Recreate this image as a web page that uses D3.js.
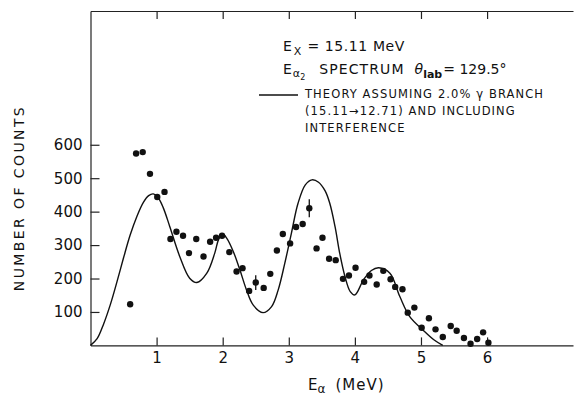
<!DOCTYPE html>
<html>
<head>
<meta charset="utf-8">
<script src="https://cdn.jsdelivr.net/npm/d3@7"></script>
<style>
  body { margin: 0; background: #fff; }
  svg { display: block; font-family: "DejaVu Sans", sans-serif; }
  .axis path, .axis line { stroke: #222; stroke-width: 1.2; }
  .axis text { font-size: 15px; fill: #111; font-family: "DejaVu Sans", sans-serif; }
</style>
</head>
<body>
<script>
// measured points (E_alpha in MeV, counts)
var energy = [0.60, 0.69, 0.79, 0.90, 1.01, 1.12, 1.21, 1.30, 1.40, 1.49, 1.60, 1.71, 1.81, 1.90, 1.99,
  2.10, 2.21, 2.30, 2.40, 2.50, 2.62, 2.72, 2.82, 2.91, 3.02, 3.11, 3.21, 3.31, 3.42, 3.51, 3.61, 3.71,
  3.82, 3.91, 4.01, 4.14, 4.22, 4.33, 4.43, 4.54, 4.61, 4.72, 4.80, 4.90, 5.01, 5.12, 5.22, 5.33, 5.45,
  5.54, 5.65, 5.75, 5.85, 5.94, 6.02];
var counts = [123, 574, 578, 513, 444, 459, 318, 340, 328, 276, 318, 266, 310, 322, 328,
  279, 221, 231, 163, 188, 172, 214, 284, 333, 305, 354, 363, 410, 290, 322, 259, 255,
  199, 209, 232, 190, 209, 182, 223, 198, 175, 168, 98, 113, 53, 81, 48, 25, 58,
  44, 22, 5, 19, 39, 8];
// error bars shown on two points
var errE = [2.50, 3.31];
var errN = [188, 410];
var errSize = [22, 27];

// theory curve
var theoryE = [0, 0.10, 0.20, 0.30, 0.40, 0.50, 0.60, 0.70, 0.80, 0.88, 0.95, 1.02, 1.10, 1.20, 1.35, 1.50, 1.61, 1.76, 1.88, 1.94, 2.0,
  2.06, 2.16, 2.26, 2.36, 2.46, 2.61, 2.74, 2.84, 2.94, 3.04, 3.14, 3.25, 3.35, 3.45, 3.55, 3.62, 3.70, 3.77, 3.85, 3.93, 4.0,
  4.13, 4.25, 4.36, 4.53, 4.68, 4.83, 5.03, 5.20, 5.33];
var theoryN = [0, 20, 65, 122, 190, 262, 330, 385, 428, 448, 453, 443, 412, 355, 266, 201, 188, 216, 276, 318, 333,
  321, 281, 226, 166, 121, 98, 116, 166, 246, 336, 425, 480, 495, 488, 462, 425, 355, 276, 206, 161, 151,
  196, 224, 232, 216, 146, 86, 46, 16, 0];

var yTicks = [100, 200, 300, 400, 500, 600];
var xTicks = [1, 2, 3, 4, 5, 6];

var W = 574, H = 398;
var svg = d3.select("body").append("svg").attr("width", W).attr("height", H);

var x = d3.scaleLinear().domain([0, 7.3]).range([90.5, 573]);
var y = d3.scaleLinear().domain([0, 1000]).range([345.4, 11]);

// axes (ticks point inward)
svg.append("g").attr("class", "axis")
  .attr("transform", "translate(" + x(0) + ",0)")
  .call(d3.axisLeft(y).tickValues(yTicks).tickSizeInner(-9).tickSizeOuter(0).tickPadding(8));

svg.append("g").attr("class", "axis")
  .attr("transform", "translate(0," + y(0) + ")")
  .call(d3.axisBottom(x).tickValues(xTicks).tickSizeInner(-8).tickSizeOuter(0).tickPadding(7));

svg.append("g").attr("class", "axis")
  .attr("transform", "translate(0," + y(1000) + ")")
  .call(d3.axisTop(x).tickValues(xTicks).tickSizeInner(-8).tickSizeOuter(0).tickFormat(""));

svg.selectAll(".axis .domain").attr("fill", "none");

// theory curve
var pts = theoryE.map(function (e, i) { return [e, theoryN[i]]; });
var line = d3.line()
  .x(function (d) { return x(d[0]); })
  .y(function (d) { return y(d[1]); })
  .curve(d3.curveCatmullRom.alpha(0.5));

svg.append("path")
  .attr("d", line(pts))
  .attr("fill", "none")
  .attr("stroke", "#111")
  .attr("stroke-width", 1.4);

// error bars
svg.selectAll("line.err")
  .data(errE)
  .enter().append("line")
  .attr("class", "err")
  .attr("x1", function (d) { return x(d); })
  .attr("x2", function (d) { return x(d); })
  .attr("y1", function (d, i) { return y(errN[i] + errSize[i]); })
  .attr("y2", function (d, i) { return y(errN[i] - errSize[i]); })
  .attr("stroke", "#111")
  .attr("stroke-width", 1.3);

// data points
svg.selectAll("circle")
  .data(energy)
  .enter().append("circle")
  .attr("cx", function (d) { return x(d); })
  .attr("cy", function (d, i) { return y(counts[i]); })
  .attr("r", 3.2)
  .attr("fill", "#111");

// y label
svg.append("text")
  .attr("transform", "translate(24,198) rotate(-90)")
  .attr("text-anchor", "middle")
  .attr("font-size", 14)
  .attr("letter-spacing", 2.4)
  .attr("fill", "#111")
  .text("NUMBER OF COUNTS");

// x label
var xl = svg.append("text")
  .attr("x", 308).attr("y", 390)
  .attr("font-size", 15)
  .attr("fill", "#111");
xl.append("tspan").text("E");
xl.append("tspan").attr("dy", 3).attr("font-size", 12).text("α");
xl.append("tspan").attr("dx", 10).attr("dy", -3).attr("letter-spacing", 1).text("(MeV)");

// annotation block
var t1 = svg.append("text").attr("x", 283).attr("y", 51).attr("font-size", 14).attr("fill", "#111");
t1.append("tspan").text("E");
t1.append("tspan").attr("dx", 2).attr("dy", 4).attr("font-size", 11).text("X");
t1.append("tspan").attr("dx", 6).attr("dy", -4).attr("letter-spacing", 0.6).text("= 15.11 MeV");

var t2 = svg.append("text").attr("x", 283).attr("y", 74).attr("font-size", 14).attr("fill", "#111");
t2.append("tspan").text("E");
t2.append("tspan").attr("dx", 1).attr("dy", 3).attr("font-size", 11).text("α");
t2.append("tspan").attr("dy", 3).attr("font-size", 8).text("2");
t2.append("tspan").attr("dx", 14).attr("dy", -6).attr("letter-spacing", 1.1).text("SPECTRUM");
t2.append("tspan").attr("dx", 10).attr("font-style", "italic").text("θ");
t2.append("tspan").attr("dy", 4).attr("font-size", 11).attr("font-weight", "bold").text("lab");
t2.append("tspan").attr("dx", 1).attr("dy", -4).text("= 129.5°");

// legend
svg.append("line")
  .attr("x1", 259).attr("x2", 298)
  .attr("y1", 95).attr("y2", 95)
  .attr("stroke", "#111").attr("stroke-width", 1.4);

var legendLines = ["THEORY ASSUMING 2.0% γ BRANCH", "(15.11→12.71) AND INCLUDING", "INTERFERENCE"];
svg.selectAll("text.leg")
  .data(legendLines)
  .enter().append("text")
  .attr("class", "leg")
  .attr("x", 305)
  .attr("y", function (d, i) { return 98 + i * 17; })
  .attr("font-size", 11.5)
  .attr("letter-spacing", 1.1)
  .attr("fill", "#111")
  .text(function (d) { return d; });
</script>
</body>
</html>
